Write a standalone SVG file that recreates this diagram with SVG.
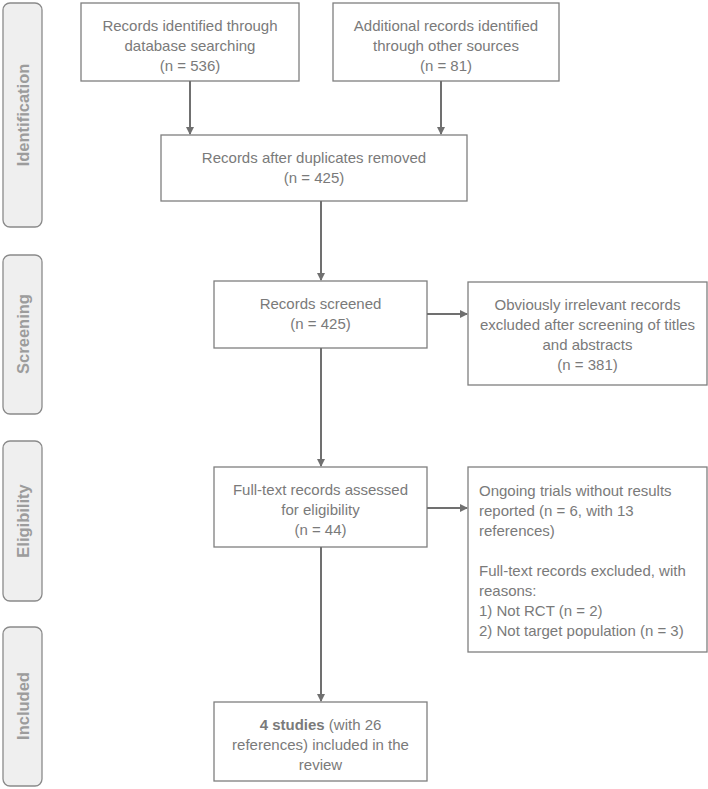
<svg xmlns="http://www.w3.org/2000/svg" width="708" height="789" viewBox="0 0 708 789">
<style>
.stage rect{fill:#efefef;stroke:#8a8a8a;stroke-width:1.3}
.stage text{font-family:"Liberation Sans",Arial,sans-serif;font-weight:bold;font-size:16.5px;fill:#9c9c9c;text-anchor:middle;dominant-baseline:central}
.box rect{fill:#fff;stroke:#7f7f7f;stroke-width:1.3}
.box text{font-family:"Liberation Sans",Arial,sans-serif;font-size:15px;fill:#7a7a7a;text-anchor:middle;dominant-baseline:central}
.box text.l{text-anchor:start}
#connectors path{stroke:#707070;stroke-width:2;fill:none;marker-end:url(#ah)}
</style>
<defs>
<marker id="ah" markerWidth="8" markerHeight="8" refX="7" refY="4" orient="auto" markerUnits="userSpaceOnUse">
<path d="M0,0 L8,4 L0,8 z" fill="#707070"/>
</marker>
</defs>
<rect width="708" height="789" fill="#fff"/>
<g id="stage-identification" class="stage"><rect x="3" y="3" width="39" height="224" rx="7"/><text transform="translate(23,115) rotate(-90)">Identification</text></g>
<g id="stage-screening" class="stage"><rect x="3" y="255" width="39" height="159" rx="7"/><text transform="translate(23,334) rotate(-90)">Screening</text></g>
<g id="stage-eligibility" class="stage"><rect x="3" y="441" width="39" height="160" rx="7"/><text transform="translate(23,521) rotate(-90)">Eligibility</text></g>
<g id="stage-included" class="stage"><rect x="3" y="627" width="39" height="159" rx="7"/><text transform="translate(23,706) rotate(-90)">Included</text></g>

<g id="n-database" class="box"><rect x="81" y="3" width="218" height="78"/><text x="190" y="25">Records identified through</text><text x="190" y="45">database searching</text><text x="190" y="65">(n = 536)</text></g>
<g id="n-other" class="box"><rect x="333" y="3" width="226" height="78"/><text x="446" y="25">Additional records identified</text><text x="446" y="45">through other sources</text><text x="446" y="65">(n = 81)</text></g>
<g id="n-duplicates" class="box"><rect x="161" y="135" width="306" height="66"/><text x="314" y="157">Records after duplicates removed</text><text x="314" y="177">(n = 425)</text></g>
<g id="n-screened" class="box"><rect x="214" y="281" width="213" height="67"/><text x="320.5" y="303">Records screened</text><text x="320.5" y="323">(n = 425)</text></g>
<g id="n-irrelevant" class="box"><rect x="468" y="282" width="239" height="103"/><text x="587.5" y="304">Obviously irrelevant records</text><text x="587.5" y="324">excluded after screening of titles</text><text x="587.5" y="344">and abstracts</text><text x="587.5" y="364">(n = 381)</text></g>
<g id="n-fulltext" class="box"><rect x="214" y="467" width="213" height="80"/><text x="320.5" y="489">Full-text records assessed</text><text x="320.5" y="509">for eligibility</text><text x="320.5" y="529">(n = 44)</text></g>
<g id="n-excluded" class="box"><rect x="468" y="467" width="239" height="185"/><text class="l" x="479" y="490">Ongoing trials without results</text><text class="l" x="479" y="510">reported (n = 6, with 13</text><text class="l" x="479" y="530">references)</text><text class="l" x="479" y="570">Full-text records excluded, with</text><text class="l" x="479" y="590">reasons:</text><text class="l" x="479" y="610">1) Not RCT (n = 2)</text><text class="l" x="479" y="630">2) Not target population (n = 3)</text></g>
<g id="n-included" class="box"><rect x="214" y="702" width="213" height="79"/><text x="320.5" y="724"><tspan font-weight="bold">4 studies</tspan> (with 26</text><text x="320.5" y="744">references) included in the</text><text x="320.5" y="764">review</text></g>

<g id="connectors">
<path d="M190,81 V134"/>
<path d="M441,81 V134"/>
<path d="M321,201 V280"/>
<path d="M427,314 H467"/>
<path d="M321,348 V466"/>
<path d="M427,508 H467"/>
<path d="M321,547 V701"/>
</g>
</svg>
